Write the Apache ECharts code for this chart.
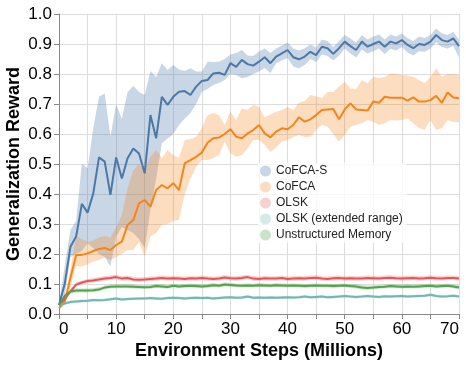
<!DOCTYPE html>
<html><head><meta charset="utf-8">
<script src="https://cdn.jsdelivr.net/npm/echarts@6/dist/echarts.min.js"></script>
<style>html,body{margin:0;padding:0;background:#fff}#c{width:466px;height:366px}</style>
</head><body><div id="c"></div>
<script>
const steps = [0,1,2,3,4,5,6,7,8,9,10,11,12,13,14,15,16,17,18,19,20,21,22,23,24,25,26,27,28,29,30,31,32,33,34,35,36,37,38,39,40,41,42,43,44,45,46,47,48,49,50,51,52,53,54,55,56,57,58,59,60,61,62,63,64,65,66,67,68,69,70];
const seriesNames = ['CoFCA-S','CoFCA','OLSK','OLSK (extended range)','Unstructured Memory'];
const yTicks = [0,0.1,0.2,0.3,0.4,0.5,0.6,0.7,0.8,0.9,1.0];

const cofcaSMean = [0.03,0.10,0.224,0.258,0.367,0.338,0.402,0.522,0.508,0.397,
0.522,0.452,0.519,0.552,0.535,0.469,0.663,0.586,0.724,0.697,
0.724,0.741,0.743,0.73,0.758,0.777,0.78,0.802,0.804,0.797,
0.836,0.824,0.847,0.833,0.828,0.841,0.856,0.836,0.858,0.869,
0.88,0.856,0.849,0.858,0.874,0.863,0.891,0.886,0.867,0.886,
0.908,0.893,0.88,0.908,0.891,0.90,0.908,0.891,0.908,0.902,
0.913,0.897,0.886,0.90,0.897,0.908,0.93,0.913,0.908,0.919,
0.893];
const cofcaSLower = [0.025,0.06,0.19,0.20,0.21,0.236,0.22,0.20,0.19,0.158,
0.258,0.29,0.28,0.27,0.25,0.22,0.347,0.45,0.569,0.585,
0.60,0.63,0.652,0.67,0.70,0.741,0.75,0.763,0.77,0.78,
0.80,0.797,0.786,0.79,0.80,0.808,0.82,0.803,0.836,0.845,
0.853,0.825,0.819,0.83,0.85,0.84,0.865,0.86,0.845,0.862,
0.885,0.868,0.855,0.882,0.868,0.876,0.885,0.866,0.884,0.878,
0.89,0.872,0.862,0.876,0.874,0.885,0.905,0.89,0.885,0.893,
0.855];
const cofcaSUpper = [0.035,0.16,0.28,0.31,0.502,0.486,0.62,0.724,0.735,0.591,
0.70,0.65,0.74,0.76,0.74,0.73,0.81,0.79,0.836,0.813,
0.83,0.815,0.81,0.819,0.808,0.808,0.841,0.84,0.841,0.85,
0.865,0.87,0.88,0.862,0.86,0.875,0.885,0.87,0.885,0.895,
0.905,0.885,0.878,0.886,0.898,0.888,0.915,0.91,0.89,0.91,
0.93,0.918,0.905,0.93,0.915,0.925,0.932,0.915,0.932,0.925,
0.935,0.92,0.91,0.925,0.92,0.93,0.952,0.935,0.93,0.94,
0.915];

const cofcaMean = [0.02,0.04,0.12,0.197,0.197,0.202,0.21,0.217,0.22,0.213,
0.23,0.241,0.297,0.313,0.369,0.38,0.358,0.413,0.43,0.419,
0.436,0.413,0.502,0.513,0.524,0.538,0.571,0.586,0.588,0.60,
0.616,0.591,0.586,0.602,0.613,0.63,0.602,0.589,0.608,0.619,
0.616,0.63,0.656,0.641,0.649,0.663,0.68,0.682,0.683,0.649,
0.682,0.702,0.682,0.68,0.678,0.708,0.704,0.724,0.721,0.721,
0.721,0.711,0.722,0.708,0.708,0.713,0.727,0.704,0.738,0.722,
0.719];
const cofcaLower = [0.015,0.03,0.09,0.16,0.158,0.165,0.175,0.18,0.188,0.18,
0.19,0.20,0.213,0.213,0.24,0.19,0.258,0.27,0.297,0.30,
0.31,0.313,0.40,0.45,0.49,0.513,0.513,0.52,0.53,0.574,
0.536,0.524,0.53,0.552,0.58,0.58,0.563,0.54,0.556,0.574,
0.58,0.59,0.597,0.59,0.591,0.613,0.63,0.624,0.60,0.574,
0.597,0.624,0.63,0.636,0.647,0.641,0.63,0.636,0.647,0.645,
0.647,0.652,0.636,0.62,0.613,0.647,0.613,0.619,0.647,0.64,
0.64];
const cofcaUpper = [0.025,0.05,0.15,0.26,0.25,0.24,0.245,0.255,0.26,0.255,
0.29,0.33,0.42,0.48,0.50,0.48,0.524,0.547,0.52,0.547,
0.53,0.52,0.58,0.583,0.59,0.62,0.663,0.67,0.663,0.63,
0.674,0.647,0.686,0.68,0.697,0.69,0.655,0.665,0.674,0.68,
0.69,0.68,0.705,0.71,0.73,0.725,0.72,0.74,0.74,0.758,
0.774,0.752,0.75,0.78,0.769,0.791,0.786,0.79,0.802,0.80,
0.797,0.795,0.791,0.78,0.77,0.79,0.819,0.791,0.80,0.80,
0.797];

const olskMean = [0.03,0.05,0.075,0.098,0.105,0.11,0.112,0.115,0.118,0.12,
0.123,0.118,0.12,0.115,0.114,0.115,0.117,0.118,0.12,0.118,
0.119,0.118,0.117,0.119,0.118,0.12,0.118,0.117,0.118,0.122,
0.119,0.118,0.12,0.123,0.118,0.117,0.119,0.118,0.118,0.12,
0.117,0.118,0.119,0.118,0.12,0.121,0.118,0.117,0.119,0.12,
0.118,0.119,0.118,0.118,0.12,0.119,0.118,0.12,0.121,0.119,
0.118,0.119,0.12,0.118,0.119,0.121,0.119,0.118,0.12,0.12,
0.118];
const olskLower = [0.027,0.044,0.068,0.091,0.098,0.103,0.105,0.108,0.111,0.113,
0.116,0.111,0.113,0.108,0.107,0.108,0.11,0.111,0.113,0.111,
0.112,0.111,0.11,0.112,0.111,0.113,0.111,0.11,0.111,0.115,
0.112,0.111,0.113,0.116,0.111,0.11,0.112,0.111,0.111,0.113,
0.11,0.111,0.112,0.111,0.113,0.114,0.111,0.11,0.112,0.113,
0.111,0.112,0.111,0.111,0.113,0.112,0.111,0.113,0.114,0.112,
0.111,0.112,0.113,0.111,0.112,0.114,0.112,0.111,0.113,0.113,
0.111];
const olskUpper = [0.033,0.056,0.082,0.105,0.112,0.117,0.12,0.123,0.126,0.128,
0.131,0.126,0.128,0.123,0.122,0.123,0.125,0.126,0.128,0.126,
0.127,0.126,0.125,0.127,0.126,0.128,0.126,0.125,0.126,0.13,
0.127,0.126,0.128,0.131,0.126,0.125,0.127,0.126,0.126,0.128,
0.125,0.126,0.127,0.126,0.128,0.129,0.126,0.125,0.127,0.128,
0.126,0.127,0.126,0.126,0.128,0.127,0.126,0.128,0.129,0.127,
0.126,0.127,0.128,0.126,0.127,0.129,0.127,0.126,0.128,0.128,
0.126];

const olskExtMean = [0.03,0.035,0.04,0.042,0.043,0.044,0.047,0.046,0.047,0.049,
0.052,0.048,0.05,0.051,0.052,0.052,0.053,0.052,0.051,0.053,
0.054,0.053,0.052,0.053,0.054,0.053,0.054,0.052,0.053,0.055,
0.056,0.054,0.055,0.058,0.054,0.055,0.054,0.055,0.054,0.055,
0.056,0.055,0.056,0.058,0.056,0.057,0.058,0.056,0.057,0.058,
0.06,0.058,0.057,0.058,0.06,0.058,0.057,0.059,0.058,0.059,
0.06,0.058,0.059,0.06,0.061,0.064,0.06,0.058,0.059,0.061,
0.058];
const olskExtLower = [0.027,0.031,0.035,0.037,0.038,0.039,0.042,0.041,0.042,0.044,
0.047,0.043,0.045,0.046,0.047,0.047,0.048,0.047,0.046,0.048,
0.049,0.048,0.047,0.048,0.049,0.048,0.049,0.047,0.048,0.05,
0.051,0.049,0.05,0.053,0.049,0.05,0.049,0.05,0.049,0.05,
0.051,0.05,0.051,0.053,0.051,0.052,0.053,0.051,0.052,0.053,
0.055,0.053,0.052,0.053,0.055,0.053,0.052,0.054,0.053,0.054,
0.055,0.053,0.054,0.055,0.056,0.058,0.055,0.053,0.054,0.056,
0.053];
const olskExtUpper = [0.033,0.039,0.045,0.047,0.048,0.049,0.052,0.051,0.052,0.054,
0.057,0.053,0.055,0.056,0.057,0.057,0.058,0.057,0.056,0.058,
0.059,0.058,0.057,0.058,0.059,0.058,0.059,0.057,0.058,0.06,
0.061,0.059,0.06,0.063,0.059,0.06,0.059,0.06,0.059,0.06,
0.061,0.06,0.061,0.063,0.061,0.062,0.063,0.061,0.062,0.063,
0.065,0.063,0.062,0.063,0.065,0.063,0.062,0.064,0.063,0.064,
0.065,0.063,0.064,0.065,0.066,0.07,0.065,0.063,0.064,0.066,
0.063];

const memMean = [0.03,0.06,0.075,0.078,0.078,0.078,0.079,0.082,0.088,0.091,
0.092,0.092,0.092,0.091,0.09,0.089,0.09,0.093,0.092,0.09,
0.094,0.092,0.093,0.094,0.093,0.092,0.093,0.096,0.094,0.098,
0.097,0.095,0.094,0.095,0.094,0.096,0.095,0.094,0.096,0.095,
0.094,0.095,0.094,0.093,0.094,0.095,0.094,0.094,0.093,0.094,
0.095,0.093,0.092,0.088,0.087,0.088,0.09,0.091,0.093,0.092,
0.091,0.092,0.091,0.092,0.093,0.094,0.092,0.093,0.094,0.092,
0.088];
const memLower = [0.027,0.053,0.068,0.071,0.072,0.072,0.073,0.076,0.082,0.085,
0.086,0.086,0.086,0.085,0.084,0.083,0.084,0.087,0.086,0.084,
0.088,0.086,0.087,0.088,0.087,0.086,0.087,0.09,0.088,0.092,
0.091,0.089,0.088,0.089,0.088,0.09,0.089,0.088,0.09,0.089,
0.088,0.089,0.088,0.087,0.088,0.089,0.088,0.088,0.087,0.088,
0.089,0.087,0.085,0.081,0.081,0.082,0.084,0.085,0.087,0.086,
0.085,0.086,0.085,0.086,0.087,0.088,0.086,0.087,0.088,0.086,
0.082];
const memUpper = [0.033,0.067,0.082,0.085,0.085,0.085,0.086,0.089,0.095,0.098,
0.099,0.099,0.099,0.098,0.097,0.096,0.097,0.1,0.099,0.097,
0.101,0.099,0.1,0.101,0.1,0.099,0.1,0.103,0.101,0.105,
0.104,0.102,0.101,0.102,0.101,0.103,0.102,0.101,0.103,0.102,
0.101,0.102,0.101,0.1,0.101,0.102,0.101,0.101,0.1,0.101,
0.102,0.1,0.1,0.097,0.095,0.095,0.097,0.098,0.1,0.099,
0.098,0.099,0.098,0.099,0.1,0.101,0.099,0.1,0.101,0.099,
0.096];

const colors = ['#4c78a8','#f58518','#e45756','#72b7b2','#54a24b'];
const fills = ['rgba(76,120,168,0.3)','rgba(245,133,24,0.28)','rgba(228,87,86,0.28)','rgba(114,183,178,0.3)','rgba(84,162,75,0.3)'];
const means = [cofcaSMean, cofcaMean, olskMean, olskExtMean, memMean];
const lowers = [cofcaSLower, cofcaLower, olskLower, olskExtLower, memLower];
const uppers = [cofcaSUpper, cofcaUpper, olskUpper, olskExtUpper, memUpper];

const FONT = '"Liberation Sans", Arial, Helvetica, sans-serif';
const series = [];
seriesNames.forEach((name, k) => {
  const lo = lowers[k], up = uppers[k];
  series.push({
    type: 'custom', name: name + ' band', silent: true, z: 2, clip: true,
    data: [[steps[0], lo[0]]],
    renderItem: function (params, api) {
      const pts = [];
      for (let i = 0; i < steps.length; i++) pts.push(api.coord([steps[i], up[i]]));
      for (let i = steps.length - 1; i >= 0; i--) pts.push(api.coord([steps[i], lo[i]]));
      return { type: 'polygon', shape: { points: pts }, style: { fill: fills[k] } };
    }
  });
});
seriesNames.forEach((name, k) => {
  series.push({
    type: 'line', name: name, z: 3, symbol: 'none', smooth: false,
    lineStyle: { color: colors[k], width: 2 }, itemStyle: { color: colors[k] },
    data: steps.map((s, i) => [s, means[k][i]])
  });
});

const chart = echarts.init(document.getElementById('c'), null, { renderer: 'canvas' });
chart.setOption({
  animation: false,
  backgroundColor: '#fff',
  grid: { left: 59, right: 7, top: 14, bottom: 52, containLabel: false, outerBoundsMode: 'none' },
  xAxis: {
    type: 'value', min: 0, max: 70, interval: 5,
    name: 'Environment Steps (Millions)', nameLocation: 'middle', nameGap: 28, nameMoveOverlap: false,
    nameTextStyle: { fontFamily: FONT, fontWeight: 'bold', fontSize: 18, color: '#000' },
    axisLine: { show: true, lineStyle: { color: '#888', width: 1 } },
    axisTick: { show: true, length: 5, lineStyle: { color: '#888' } },
    splitLine: { show: true, lineStyle: { color: '#ddd', width: 1 } },
    axisLabel: {
      fontFamily: FONT, fontSize: 17, color: '#000', margin: 7,
      alignMinLabel: 'left', alignMaxLabel: 'right',
      formatter: v => (v % 10 === 0 ? String(v) : '')
    }
  },
  yAxis: {
    type: 'value', min: yTicks[0], max: yTicks[yTicks.length - 1], interval: 0.1,
    name: 'Generalization Reward', nameLocation: 'middle', nameGap: 36, nameMoveOverlap: false,
    nameTextStyle: { fontFamily: FONT, fontWeight: 'bold', fontSize: 18, color: '#000' },
    axisLine: { show: true, lineStyle: { color: '#888', width: 1 } },
    axisTick: { show: true, length: 5, lineStyle: { color: '#888' } },
    splitLine: { show: true, lineStyle: { color: '#ddd', width: 1 } },
    axisLabel: { fontFamily: FONT, fontSize: 17, color: '#000', margin: 7, formatter: v => v.toFixed(1) }
  },
  legend: {
    orient: 'vertical', left: 258, top: 163, itemGap: 4,
    icon: 'circle', itemWidth: 11, itemHeight: 11,
    backgroundColor: 'rgba(255,255,255,0.8)', padding: [2, 4, 2, 2],
    textStyle: { fontFamily: FONT, fontSize: 12, color: '#222' },
    data: seriesNames.map((n, k) => ({ name: n, itemStyle: { color: fills[k], opacity: 1 } }))
  },
  series: series
});
</script>
</body></html>
